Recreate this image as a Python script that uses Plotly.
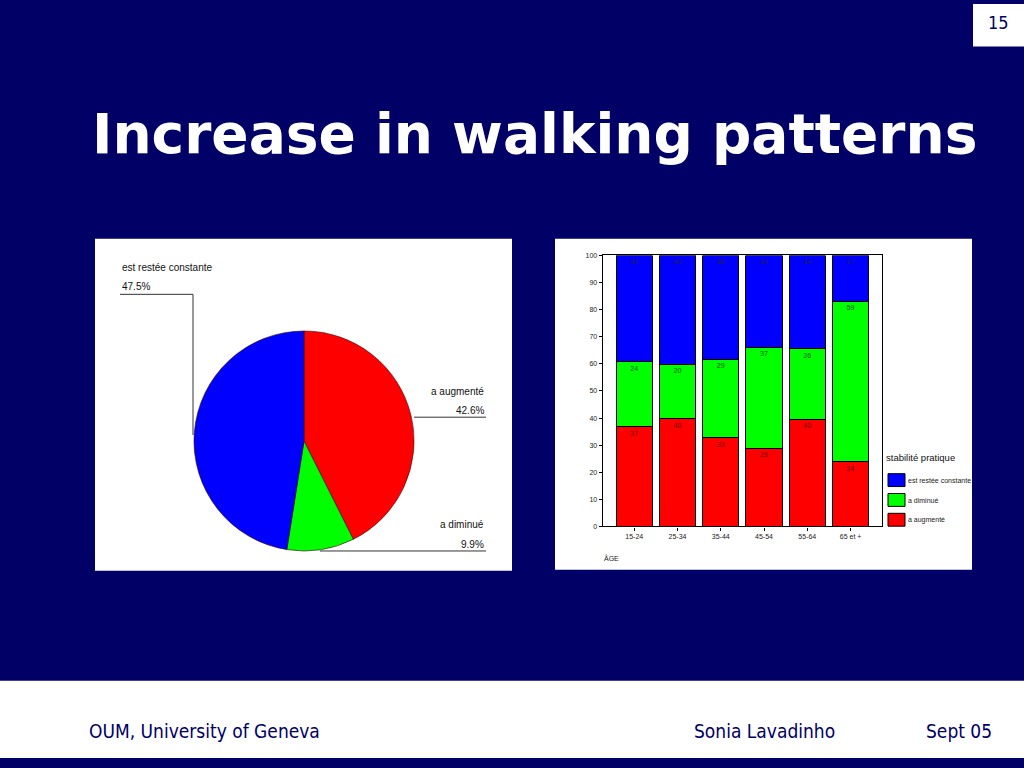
import plotly.graph_objects as go

# ---------------- data ----------------
pie_labels = ["a augmenté", "a diminué", "est restée constante"]
pie_values = [42.6, 9.9, 47.5]
pie_colors = ["#ff0000", "#00ff00", "#0000ff"]

age_groups = ["15-24", "25-34", "35-44", "45-54", "55-64", "65 et +"]
augmente = [36.8, 39.8, 32.7, 28.9, 39.5, 23.9]
diminue = [24.0, 20.0, 28.9, 37.2, 26.1, 59.1]
constante = [39.2, 40.2, 38.4, 33.9, 34.4, 17.0]

bar_series = [
    ("a augmenté", augmente, "#ff0000", "#6a0000"),
    ("a diminué", diminue, "#00ff00", "#005000"),
    ("est restée constante", constante, "#0000ff", "#202040"),
]
y_ticks = list(range(0, 101, 10))

W, H = 1024, 768
NAVY = "#000066"


def px(x):
    return x / W


def py(y):
    return 1 - y / H


fig = go.Figure()

# ---------------- pie ----------------
fig.add_trace(go.Pie(
    labels=pie_labels, values=pie_values, sort=False, direction="clockwise",
    rotation=0, textinfo="none", hoverinfo="label+percent", showlegend=False,
    marker=dict(colors=pie_colors, line=dict(color="#300000", width=0.6)),
    domain=dict(x=[px(193), px(415)], y=[py(552), py(330)]),
))

# ---------------- bars ----------------
for name, vals, col, tcol in bar_series:
    fig.add_trace(go.Bar(
        x=age_groups, y=vals, name=name, showlegend=False,
        marker=dict(color=col, line=dict(color="#000000", width=1)),
        text=[f"{v:.0f}" for v in vals], textposition="inside",
        insidetextanchor="end", textangle=0,
        textfont=dict(size=7, color=tcol, family="Liberation Sans, Arial, sans-serif"),
        width=0.84,
    ))

fig.update_layout(
    barmode="stack",
    width=W, height=H, margin=dict(l=0, r=0, t=0, b=0),
    paper_bgcolor=NAVY, plot_bgcolor="white",
    xaxis=dict(domain=[px(602.7), px(881.7)], range=[-0.73, 5.72],
               showline=True, linecolor="black", linewidth=1.2, mirror=True,
               ticks="outside", ticklen=3, tickcolor="black",
               tickfont=dict(size=7, color="#222", family="Liberation Sans, Arial, sans-serif"),
               showgrid=False, fixedrange=True),
    yaxis=dict(domain=[py(527.3), py(253.7)], range=[0, 100],
               tickvals=y_ticks, showline=True, linecolor="black", linewidth=1.2,
               mirror=True, ticks="outside", ticklen=3, tickcolor="black",
               tickfont=dict(size=7, color="#222", family="Liberation Sans, Arial, sans-serif"),
               showgrid=False, zeroline=False, fixedrange=True),
    font=dict(family="Liberation Sans, Arial, sans-serif"),
)

shapes = []
annotations = []

# white panels
shapes.append(dict(type="rect", xref="paper", yref="paper", x0=px(95), x1=px(512),
                   y0=py(572), y1=py(237), fillcolor="white", line=dict(width=0), layer="below"))
shapes.append(dict(type="rect", xref="paper", yref="paper", x0=px(555), x1=px(972),
                   y0=py(571), y1=py(237), fillcolor="white", line=dict(width=0), layer="below"))
# page number box
shapes.append(dict(type="rect", xref="paper", yref="paper", x0=px(973), x1=px(1024),
                   y0=py(43), y1=py(0), fillcolor="white", line=dict(width=0), layer="below"))
# footer band
shapes.append(dict(type="rect", xref="paper", yref="paper", x0=0, x1=1,
                   y0=py(761), y1=py(683), fillcolor="white", line=dict(width=0), layer="below"))

# pie leader lines
line_style = dict(color="#333333", width=1)
shapes.append(dict(type="path", xref="paper", yref="paper",
                   path=f"M {px(120)} {py(293)} L {px(193)} {py(293)} L {px(193)} {py(435)}",
                   line=line_style))
shapes.append(dict(type="line", xref="paper", yref="paper", x0=px(414), x1=px(486),
                   y0=py(417), y1=py(417), line=line_style))
shapes.append(dict(type="line", xref="paper", yref="paper", x0=px(320), x1=px(486),
                   y0=py(552), y1=py(552), line=line_style))

pie_font = dict(size=10, color="#111", family="Liberation Sans, Arial, sans-serif")
pie_label_pos = {
    "est restée constante": (120, 266, 285, "left"),
    "a augmenté": (486, 391, 410, "right"),
    "a diminué": (486, 525, 545, "right"),
}
for lab, val in zip(pie_labels, pie_values):
    x, y1, y2, al = pie_label_pos[lab]
    annotations.append(dict(x=px(x), y=py(y1), xref="paper", yref="paper", text=lab,
                            showarrow=False, xanchor=al, yanchor="middle", font=pie_font))
    annotations.append(dict(x=px(x), y=py(y2), xref="paper", yref="paper", text=f"{val}%",
                            showarrow=False, xanchor=al, yanchor="middle", font=pie_font))

# bar chart axis title
annotations.append(dict(x=px(602), y=py(559), xref="paper", yref="paper", text="ÂGE",
                        showarrow=False, xanchor="left", yanchor="middle",
                        font=dict(size=7, color="#222", family="Liberation Sans, Arial, sans-serif")))

# custom legend (top to bottom: constante, diminué, augmenté)
annotations.append(dict(x=px(884), y=py(458), xref="paper", yref="paper", text="stabilité pratique",
                        showarrow=False, xanchor="left", yanchor="middle",
                        font=dict(size=9.5, color="#111", family="Liberation Sans, Arial, sans-serif")))
leg_rows = [474, 494, 514]
for (name, vals, col, tcol), top in zip(list(reversed(bar_series)), leg_rows):
    shapes.append(dict(type="rect", xref="paper", yref="paper", x0=px(888), x1=px(905),
                       y0=py(top + 13), y1=py(top), fillcolor=col,
                       line=dict(color="black", width=1)))
    annotations.append(dict(x=px(906), y=py(top + 7), xref="paper", yref="paper", text=name,
                            showarrow=False, xanchor="left", yanchor="middle",
                            font=dict(size=7, color="#222", family="Liberation Sans, Arial, sans-serif")))

# title
annotations.append(dict(x=px(534), y=py(131), xref="paper", yref="paper",
                        text="<b>Increase in walking patterns</b>", showarrow=False,
                        xanchor="center", yanchor="middle",
                        font=dict(size=55, color="white", family="DejaVu Sans, Verdana, sans-serif")))
# page number
annotations.append(dict(x=px(998), y=py(19), xref="paper", yref="paper", text="15",
                        showarrow=False, xanchor="center", yanchor="middle",
                        font=dict(size=18, color=NAVY, family="DejaVu Sans Condensed, Tahoma, sans-serif")))
# footer
foot_font = dict(size=19, color=NAVY, family="DejaVu Sans Condensed, Tahoma, sans-serif")
for txt, x in [("OUM, University of Geneva", 87), ("Sonia Lavadinho", 692), ("Sept 05", 924)]:
    annotations.append(dict(x=px(x), y=py(734), xref="paper", yref="paper", text=txt,
                            showarrow=False, xanchor="left", yanchor="middle", font=foot_font))

fig.update_layout(shapes=shapes, annotations=annotations)
fig.write_html("out.html", config={"displayModeBar": False},
               post_script="document.body.style.margin='0';document.body.style.overflow='hidden';")
